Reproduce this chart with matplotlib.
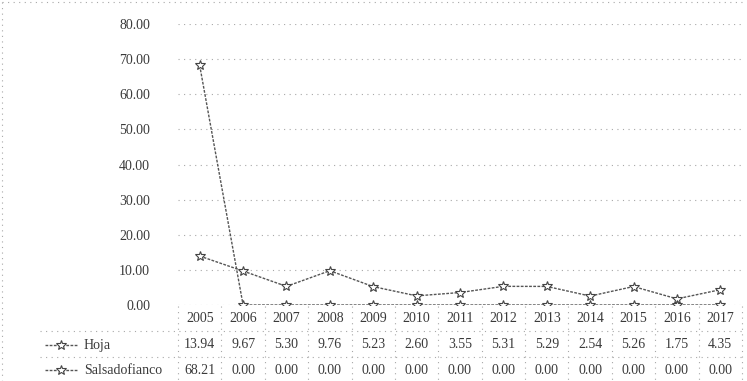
import numpy as np
import matplotlib.pyplot as plt
from matplotlib.lines import Line2D

plt.rcParams['font.family'] = ['Liberation Serif', 'DejaVu Serif']

years = ['2005', '2006', '2007', '2008', '2009', '2010', '2011',
         '2012', '2013', '2014', '2015', '2016', '2017']
hoja = [13.94, 9.67, 5.30, 9.76, 5.23, 2.60, 3.55, 5.31, 5.29, 2.54, 5.26, 1.75, 4.35]
salsa = [68.21, 0.00, 0.00, 0.00, 0.00, 0.00, 0.00, 0.00, 0.00, 0.00, 0.00, 0.00, 0.00]
series_names = ['Hoja', 'Salsadofianco']
y_ticks = np.arange(0, 81, 10)

W, H = 747, 381
txt_col = '#3a3a3a'
grid_col = '#a8a8a8'
dots = (0, (1, 4))


def fy(py):
    return 1 - py / H


def fx(px):
    return px / W


fig = plt.figure(figsize=(W / 100, H / 100), dpi=100)
ax = fig.add_axes([fx(178), fy(305), fx(742) - fx(178), fy(24) - fy(305)])

x = np.arange(len(years))
for vals in [hoja, salsa]:
    ax.plot(x, vals, color='#555555', lw=1.0, ls=(0, (2, 1)), marker='*', ms=7,
            mfc='white', mec='#444444', mew=0.8)

ax.set_xlim(-0.5, len(years) - 0.5)
ax.set_ylim(0, 80)
ax.set_yticks(y_ticks)
ax.set_yticklabels([f'{v:.2f}' for v in y_ticks], fontsize=10, color=txt_col)
ax.tick_params(axis='y', length=0, pad=20)
ax.set_xticks([])
ax.yaxis.grid(True, color=grid_col, ls=dots, lw=0.8)
ax.set_axisbelow(True)
for s in ax.spines.values():
    s.set_visible(False)


def ax_y(fig_y):
    return ax.transAxes.inverted().transform(fig.transFigure.transform((0, fig_y)))[1]


# data table under the plot
row_y = [fy(318), fy(345), fy(370)]
trans = ax.get_xaxis_transform()
for i, yr in enumerate(years):
    ax.text(i, ax_y(row_y[0]), yr, transform=trans, ha='center', va='center',
            fontsize=10, color=txt_col, clip_on=False)
    for r, vals in enumerate([hoja, salsa]):
        ax.text(i, ax_y(row_y[r + 1]), f'{vals[i]:.2f}', transform=trans, ha='center',
                va='center', fontsize=10, color=txt_col, clip_on=False)

# table grid lines (dotted)
for py in [331, 357]:
    fig.add_artist(Line2D([fx(40), fx(742)], [fy(py), fy(py)], color=grid_col, ls=dots, lw=0.8))
for i in range(len(years) + 1):
    xf = fig.transFigure.inverted().transform(ax.transData.transform((i - 0.5, 0)))[0]
    fig.add_artist(Line2D([xf, xf], [fy(306), fy(380)], color=grid_col, ls=dots, lw=0.8))

# legend keys in the table
for r, name in enumerate(series_names):
    yk = row_y[r + 1]
    fig.add_artist(Line2D([fx(45), fx(78)], [yk, yk], color='#555555', lw=1.0, ls=(0, (2, 1))))
    fig.add_artist(Line2D([fx(61)], [yk], marker='*', ms=7, mfc='white', mec='#444444', mew=0.8))
    fig.text(fx(84), yk, name, ha='left', va='center', fontsize=10, color=txt_col)

# outer chart border (dotted)
fig.add_artist(Line2D([fx(2), fx(746)], [fy(2), fy(2)], color=grid_col, ls=dots, lw=0.8))
fig.add_artist(Line2D([fx(2), fx(2)], [fy(2), fy(380)], color=grid_col, ls=dots, lw=0.8))

fig.savefig('out.png', dpi=100)
